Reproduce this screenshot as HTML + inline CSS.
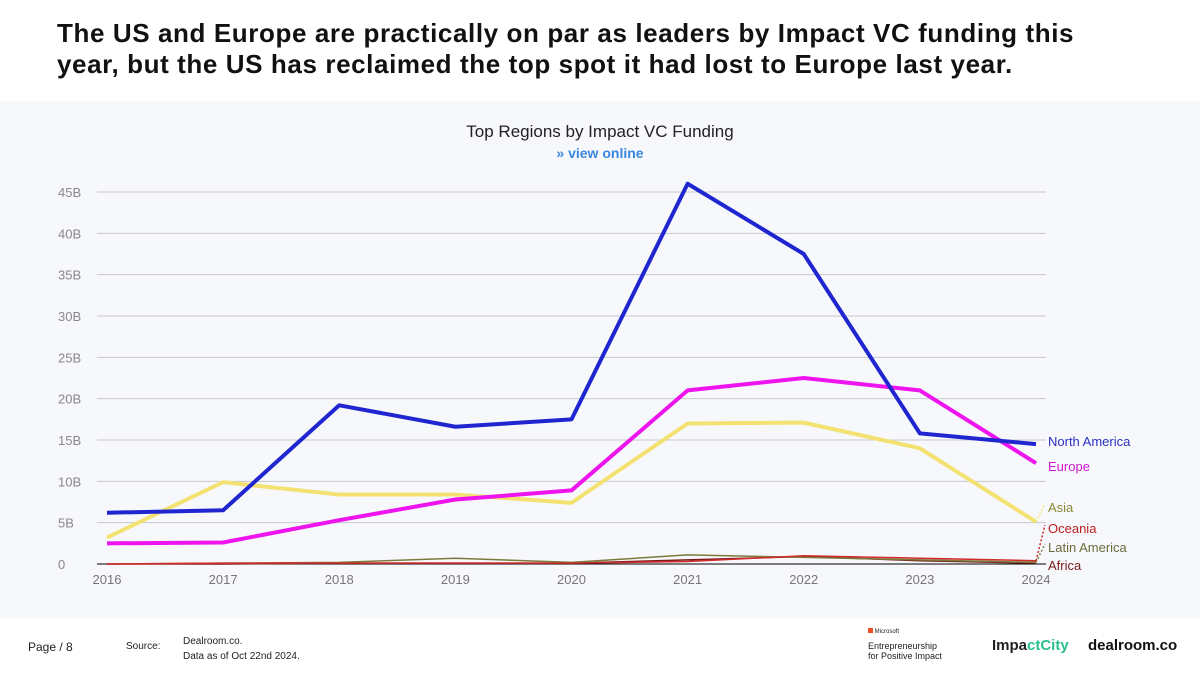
<!DOCTYPE html>
<html><head><meta charset="utf-8"><style>
body{margin:0;width:1200px;height:675px;background:#fff;font-family:"Liberation Sans",sans-serif;overflow:hidden;position:relative}
#title{position:absolute;left:57px;top:18px;width:1060px;font-size:26px;font-weight:bold;line-height:31px;color:#111;letter-spacing:0.6px}
#panel{position:absolute;left:0;top:101px;width:1200px;height:517px;background:#f7f8fc}
.ft{position:absolute;font-size:10px;color:#222}
</style></head><body>
<div id="title">The US and Europe are practically on par as leaders by Impact VC funding this<br>year, but the US has reclaimed the top spot it had lost to Europe last year.</div>
<div id="panel"></div>
<svg width="1200" height="675" style="position:absolute;left:0;top:0" id="chart">
<text x="600" y="137" text-anchor="middle" font-size="17" fill="#222">Top Regions by Impact VC Funding</text>
<text x="600" y="158" text-anchor="middle" font-size="14" font-weight="bold" fill="#3a86e0">» view online</text>
<g id="grid"></g><g id="lines"></g><g id="labels"></g>
</svg>
<div class="ft" style="left:28px;top:640px;font-size:12px">Page / 8</div>
<div class="ft" style="left:126px;top:641px">Source:</div>
<div class="ft" style="left:183px;top:634px;line-height:15px">Dealroom.co.<br>Data as of Oct 22nd 2024.</div>
<div class="ft" style="left:868px;top:628px;font-size:6px"><span style="display:inline-block;width:5px;height:5px;background:#f25022"></span> Microsoft</div>
<div class="ft" style="left:868px;top:641px;font-size:9px;line-height:10px">Entrepreneurship<br>for Positive Impact</div>
<div class="ft" style="left:992px;top:637px;font-size:15px;font-weight:bold">Impa<span style="color:#2bbf8a">ctCity</span></div>
<div class="ft" style="left:1088px;top:637px;font-size:15px;font-weight:bold;color:#111">dealroom.co</div>
<script>
const years=[2016,2017,2018,2019,2020,2021,2022,2023,2024];
const yTicks=[0,5,10,15,20,25,30,35,40,45];
const northAmerica=[6.2,6.5,19.2,16.6,17.5,46,37.5,15.8,14.5];
const europe=[2.5,2.6,5.3,7.8,8.9,21,22.5,21,12.2];
const asia=[3.2,9.9,8.4,8.4,7.4,17,17.1,14,5.1];
const oceania=[0,0.1,0.1,0.1,0.1,0.3,1.0,0.7,0.4];
const latinAmerica=[0,0.1,0.2,0.7,0.2,1.1,0.8,0.5,0.2];
const africa=[0,0,0.1,0.1,0.1,0.5,0.9,0.4,0.1];
const NS='http://www.w3.org/2000/svg';
const x=i=>107+(1036-107)*i/(years.length-1);
const y=v=>564-v*(564-192)/45;
function mk(t,a,p){const e=document.createElementNS(NS,t);for(const k in a)e.setAttribute(k,a[k]);p.appendChild(e);return e;}
const g=document.getElementById('grid');
yTicks.forEach(t=>{
 const l=mk('line',{x1:97,x2:1046,y1:y(t),y2:y(t),stroke:t===0?'#000':'#c8c8cc','stroke-width':1},g);
 
 const tx=mk('text',{x:58,y:y(t)+5,'font-size':13,fill:'#888'},g);tx.textContent=t===0?'0':t+'B';
 
});
years.forEach((yr,i)=>{const tx=mk('text',{x:x(i),y:584,'text-anchor':'middle','font-size':13,fill:'#777'},g);tx.textContent=yr;
 });
const series=[
 {n:'Africa',d:africa,c:'#7a1a1a',w:1.5,ly:570,lc:'#7a1a1a'},
 {n:'Latin America',d:latinAmerica,c:'#7a7a3a',w:1.5,ly:552,lc:'#6b6b3a'},
 {n:'Oceania',d:oceania,c:'#d02a2a',w:1.5,ly:533,lc:'#c02020'},
 {n:'Asia',d:asia,c:'#f3e272',w:4,ly:512,lc:'#8a8a3a'},
 {n:'Europe',d:europe,c:'#ee14ee',w:4,ly:471,lc:'#d018d0'},
 {n:'North America',d:northAmerica,c:'#1f26d0',w:4,ly:446,lc:'#2a30c0'}];
const L=document.getElementById('lines'),LB=document.getElementById('labels');
series.forEach(s=>{
 const pts=s.d.map((v,i)=>x(i)+','+y(v)).join(' ');
 const p=mk('polyline',{points:pts,fill:'none',stroke:s.c,'stroke-width':s.w,'stroke-linejoin':'round'},L);
 
 const last=y(s.d[s.d.length-1]);
 if(Math.abs(last-(s.ly-5))>8){const c=mk('line',{x1:x(8),y1:last,x2:1045,y2:s.ly-8,stroke:s.c,'stroke-width':1.5,'stroke-dasharray':'2,2'},L);
  }
 const t=mk('text',{x:1048,y:s.ly,'font-size':13,fill:s.lc},LB);t.textContent=s.n;
 
});
</script>
</body></html>
